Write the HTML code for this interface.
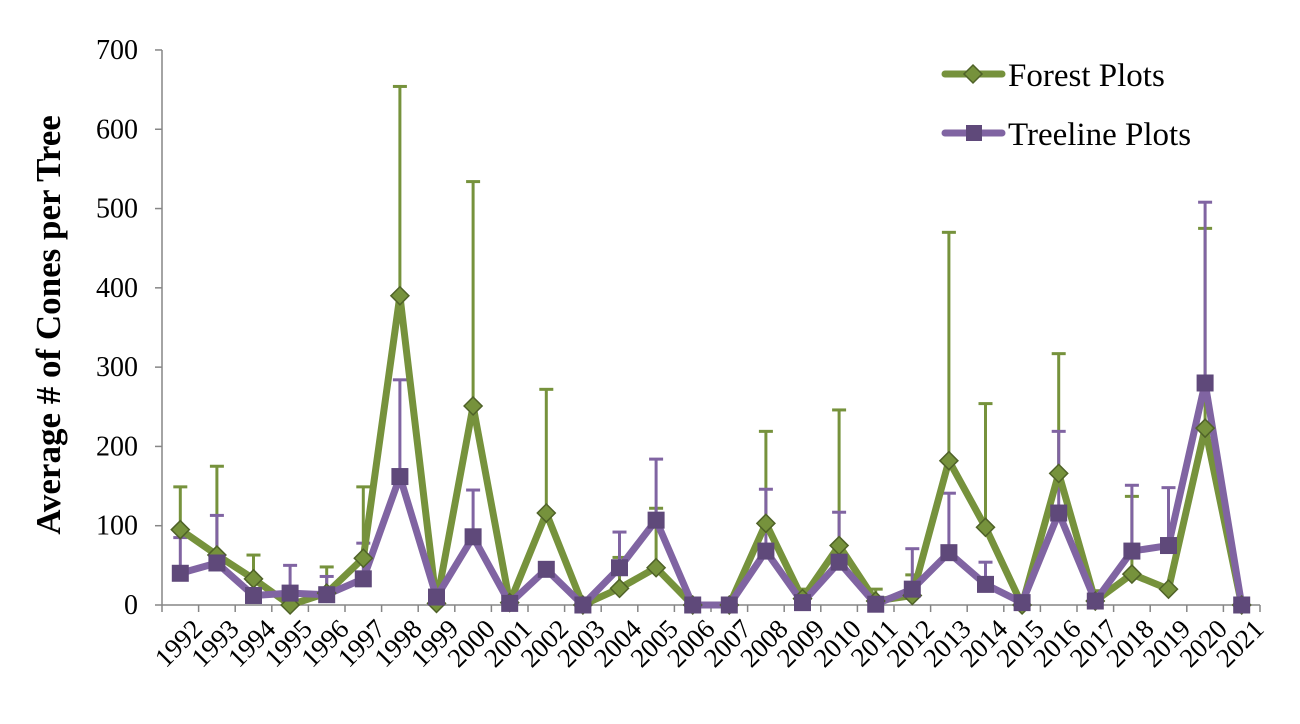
<!DOCTYPE html>
<html><head><meta charset="utf-8"><style>
html,body{margin:0;padding:0;background:#fff;}
svg text{font-family:"Liberation Serif",serif;fill:#000;}
</style></head><body>
<svg id="c" width="1300" height="719" xmlns="http://www.w3.org/2000/svg"></svg>
<script>
const s=document.getElementById('c');
let h='';
const y0=605,k=0.7929,x0=162,bw=36.6;
const Y=v=>y0-v*k, X=i=>x0+bw/2+i*bw;
h+=`<line x1="${x0}" y1="50" x2="${x0}" y2="${y0}" stroke="#868686" stroke-width="1.5"/>`;
h+=`<line x1="${x0}" y1="${y0}" x2="${x0+30*bw}" y2="${y0}" stroke="#868686" stroke-width="1.5"/>`;
for(let v=0;v<=700;v+=100){const y=Y(v);h+=`<line x1="${x0-7}" y1="${y}" x2="${x0}" y2="${y}" stroke="#868686" stroke-width="1.5"/><text x="${x0-24}" y="${y+9}" font-size="28" text-anchor="end">${v}</text>`;}
for(let i=0;i<=30;i++){const x=x0+i*bw;h+=`<line x1="${x}" y1="${y0}" x2="${x}" y2="${y0+7}" stroke="#868686" stroke-width="1.5"/>`;}
for(let i=0;i<30;i++){const x=X(i)+10,y=y0+12;h+=`<text x="${x}" y="${y}" font-size="27" text-anchor="end" transform="rotate(-45 ${x} ${y})" dominant-baseline="hanging">${1992+i}</text>`;}
h+=`<text transform="translate(60 325) rotate(-90)" font-size="35" font-weight="bold" text-anchor="middle">Average # of Cones per Tree</text>`;
const F=[95,63,33,0,15,59,390,2,251,3,116,0,21,47,0,0,103,8,75,5,12,182,98,0,166,5,39,20,223,0];
const FE=[149,175,63,null,48,149,654,null,534,null,272,null,60,122,null,null,219,20,246,20,38,470,254,null,317,18,137,null,475,null];
const T=[40,53,12,15,13,33,162,10,86,2,45,0,47,107,0,0,68,3,54,1,20,66,26,3,116,5,68,75,280,0];
const TE=[85,113,30,50,36,78,284,null,145,null,null,null,92,184,null,null,146,null,117,null,71,141,54,null,219,null,151,148,508,null];
const G='#76923C',GD='#4F6228',P='#8064A2',PD='#5F497A';
function err(d,e,c){let o='';d.forEach((v,i)=>{if(e[i]==null)return;const x=X(i);o+=`<line x1="${x}" y1="${Y(v)}" x2="${x}" y2="${Y(e[i])}" stroke="${c}" stroke-width="3"/><line x1="${x-7}" y1="${Y(e[i])}" x2="${x+7}" y2="${Y(e[i])}" stroke="${c}" stroke-width="3"/>`;});return o;}
function line(d,c){return `<polyline fill="none" stroke="${c}" stroke-width="7" stroke-linejoin="round" points="${d.map((v,i)=>X(i)+','+Y(v)).join(' ')}"/>`;}
h+=err(F,FE,G)+err(T,TE,P);
h+=line(F,G)+line(T,P);
F.forEach((v,i)=>{const x=X(i),y=Y(v);h+=`<polygon points="${x},${y-9} ${x+9},${y} ${x},${y+9} ${x-9},${y}" fill="${G}" stroke="${GD}" stroke-width="1.5"/>`;});
T.forEach((v,i)=>{const x=X(i),y=Y(v);h+=`<rect x="${x-8}" y="${y-8}" width="16" height="16" fill="${PD}" stroke="${PD}"/>`;});
h+=`<line x1="945" y1="74" x2="1002" y2="74" stroke="${G}" stroke-width="7" stroke-linecap="round"/><polygon points="973,65 982,74 973,83 964,74" fill="${G}" stroke="${GD}" stroke-width="1.5"/><text x="1008" y="86" font-size="33">Forest Plots</text>`;
h+=`<line x1="945" y1="133" x2="1002" y2="133" stroke="${P}" stroke-width="7" stroke-linecap="round"/><rect x="966" y="125" width="16" height="16" fill="${PD}"/><text x="1008" y="145" font-size="33">Treeline Plots</text>`;
s.innerHTML=h;
</script>
</body></html>
